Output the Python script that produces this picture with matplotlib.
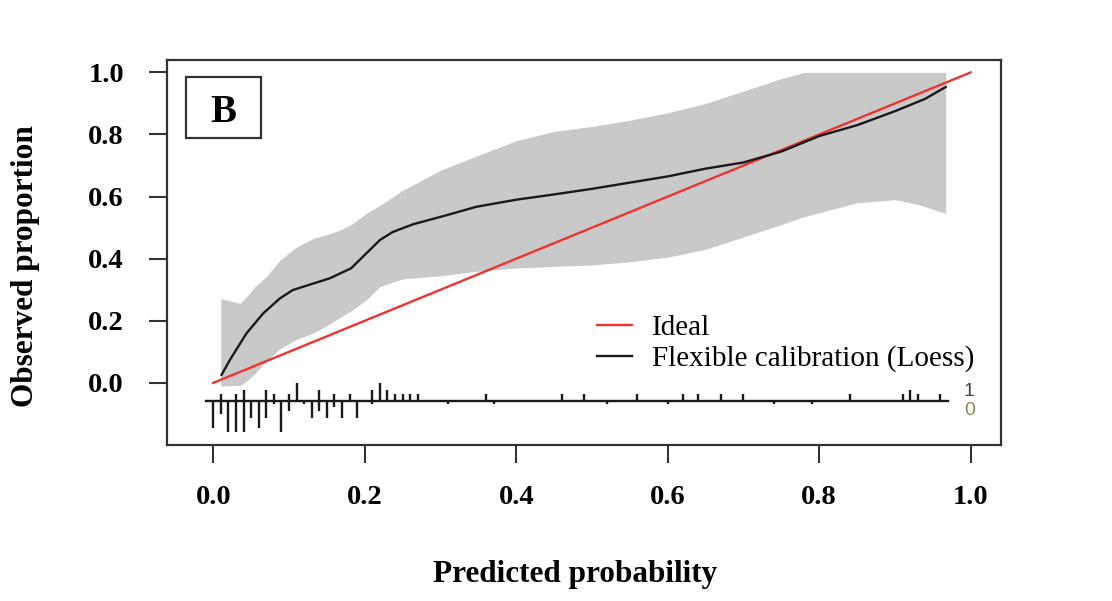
import numpy as np
import matplotlib
matplotlib.use("Agg")
import matplotlib.pyplot as plt
from matplotlib.patches import Rectangle

# ---- data ----
loess_x = [0.011, 0.022, 0.044, 0.066, 0.088, 0.105, 0.132, 0.154, 0.182, 0.202, 0.22,
           0.237, 0.264, 0.308, 0.347, 0.4, 0.45, 0.5, 0.55, 0.6, 0.65, 0.7, 0.75,
           0.8, 0.85, 0.9, 0.94, 0.967]
loess_y = [0.026, 0.074, 0.16, 0.224, 0.272, 0.299, 0.32, 0.337, 0.369, 0.417, 0.46,
           0.486, 0.511, 0.54, 0.567, 0.59, 0.607, 0.625, 0.645, 0.665, 0.69, 0.71, 0.745,
           0.795, 0.83, 0.875, 0.915, 0.953]

band_x = [0.01, 0.035, 0.044, 0.055, 0.07, 0.088, 0.11, 0.132, 0.154, 0.167, 0.184, 0.202,
          0.22, 0.25, 0.3, 0.35, 0.4, 0.45, 0.5, 0.55, 0.6, 0.65, 0.7, 0.75, 0.78,
          0.85, 0.9, 0.93, 0.967]
band_upper = [0.272, 0.256, 0.277, 0.31, 0.342, 0.395, 0.438, 0.465, 0.481, 0.492, 0.513,
              0.546, 0.572, 0.62, 0.685, 0.733, 0.78, 0.81, 0.826, 0.846, 0.87, 0.90, 0.94,
              0.98, 1.0, 1.0, 1.0, 1.0, 1.0]
band_lower = [-0.01, -0.008, 0.005, 0.03, 0.07, 0.11, 0.14, 0.16, 0.19, 0.21, 0.235, 0.267,
              0.31, 0.335, 0.345, 0.36, 0.37, 0.375, 0.38, 0.39, 0.405, 0.43, 0.47, 0.51,
              0.535, 0.58, 0.59, 0.575, 0.546]

ideal = [0.0, 1.0]

# rug: bins with events (1, drawn upward) and non-events (0, drawn downward)
bins1 = [0.01, 0.03, 0.04, 0.07, 0.08, 0.10, 0.11, 0.14, 0.16, 0.18, 0.21, 0.22, 0.23,
         0.24, 0.25, 0.26, 0.27, 0.36, 0.46, 0.49, 0.56, 0.62, 0.64, 0.67, 0.70, 0.84,
         0.91, 0.92, 0.93, 0.96]
freq1 = [2, 2, 3, 3, 2, 2, 5, 3, 2, 2, 3, 5, 3, 2, 2, 2, 2, 2, 2, 2, 2, 2, 2, 2, 2, 2,
         2, 3, 2, 2]
bins0 = [0.00, 0.01, 0.02, 0.03, 0.04, 0.05, 0.06, 0.07, 0.08, 0.09, 0.10, 0.12, 0.13,
         0.14, 0.15, 0.16, 0.17, 0.19, 0.21, 0.31, 0.37, 0.52, 0.60, 0.74, 0.79]
freq0 = [8, 4, 9, 9, 9, 5, 8, 5, 1, 9, 3, 1, 5, 3, 5, 2, 5, 5, 1, 1, 1, 1, 1, 1, 1]

x_ticks = [0.0, 0.2, 0.4, 0.6, 0.8, 1.0]
y_ticks = [0.0, 0.2, 0.4, 0.6, 0.8, 1.0]
legend_labels = ["Ideal", "Flexible calibration (Loess)"]

# ---- figure ----
fig = plt.figure(figsize=(11.12, 6.01), dpi=100)
ax = fig.add_axes([0.1502, 0.2596, 0.75, 0.6406])

serif = ["Liberation Serif", "DejaVu Serif"]

ax.fill_between(band_x, band_lower, band_upper, color="#c9c9c9", linewidth=0, zorder=1)
l1, = ax.plot(ideal, ideal, color="#ee3333", lw=1.7, zorder=3)
l2, = ax.plot(loess_x, loess_y, color="#1a1a1a", lw=1.7, zorder=4)

# rug
line_bins = -0.057
maxf = max(max(freq0), max(freq1))
h1 = 0.1 * np.array(freq1) / maxf
h0 = 0.1 * np.array(freq0) / maxf
ax.vlines(bins1, line_bins, line_bins + h1, color="#1a1a1a", lw=1.7, zorder=4)
ax.vlines(bins0, line_bins, line_bins - h0, color="#1a1a1a", lw=1.7, zorder=4)
lo = min(min(bins0), min(bins1)) - 0.01
hi = max(max(bins0), max(bins1)) + 0.01
ax.plot([lo, hi], [line_bins, line_bins], color="#1a1a1a", lw=1.7, zorder=4)
ax.text(hi + 0.028, line_bins + 0.029, "1", ha="center", va="center",
        fontsize=14, family="Liberation Sans", color="#444444")
ax.text(hi + 0.028, line_bins - 0.032, "0", ha="center", va="center",
        fontsize=14, family="Liberation Sans", color="#8b8b50")

ax.set_xlim(-0.061, 1.04)
ax.set_ylim(-0.2, 1.04)
ax.set_xticks(x_ticks)
ax.set_yticks(y_ticks)
ax.set_xticklabels([f"{v:.1f}" for v in x_ticks])
ax.set_yticklabels([f"{v:.1f}" for v in y_ticks])
for lab in ax.get_xticklabels() + ax.get_yticklabels():
    lab.set_family(serif)
    lab.set_fontweight("bold")
    lab.set_fontsize(20.5)
ax.tick_params(axis="both", direction="out", length=13, width=1.5, color="#333333")
ax.tick_params(axis="x", pad=16)
ax.tick_params(axis="y", pad=18)
for s in ax.spines.values():
    s.set_linewidth(1.6)
    s.set_color("#333333")

ax.set_xlabel("Predicted probability", family=serif, fontweight="bold", fontsize=22.5)
ax.set_ylabel("Observed proportion", family=serif, fontweight="bold", fontsize=22.5)
ax.xaxis.set_label_coords(0.489, -0.2987)
ax.yaxis.set_label_coords(-0.152, 0.465)

leg = ax.legend([l1, l2], legend_labels, loc="upper left",
                bbox_to_anchor=(0.5156, 0.338), frameon=False,
                prop={"family": serif, "size": 21}, handlelength=1.2,
                handletextpad=0.68, labelspacing=0.14, borderpad=0,
                borderaxespad=0)

# "B" panel label box
ax.add_patch(Rectangle((0.0228, 0.797), 0.0899, 0.158, transform=ax.transAxes,
                       fill=False, lw=1.6, edgecolor="#333333", zorder=5))
ax.text(0.0228 + 0.0899 / 2, 0.863, "B", transform=ax.transAxes,
        ha="center", va="center", family=serif, fontweight="bold", fontsize=28, zorder=6)

fig.savefig("out.png", dpi=100, facecolor="white")
